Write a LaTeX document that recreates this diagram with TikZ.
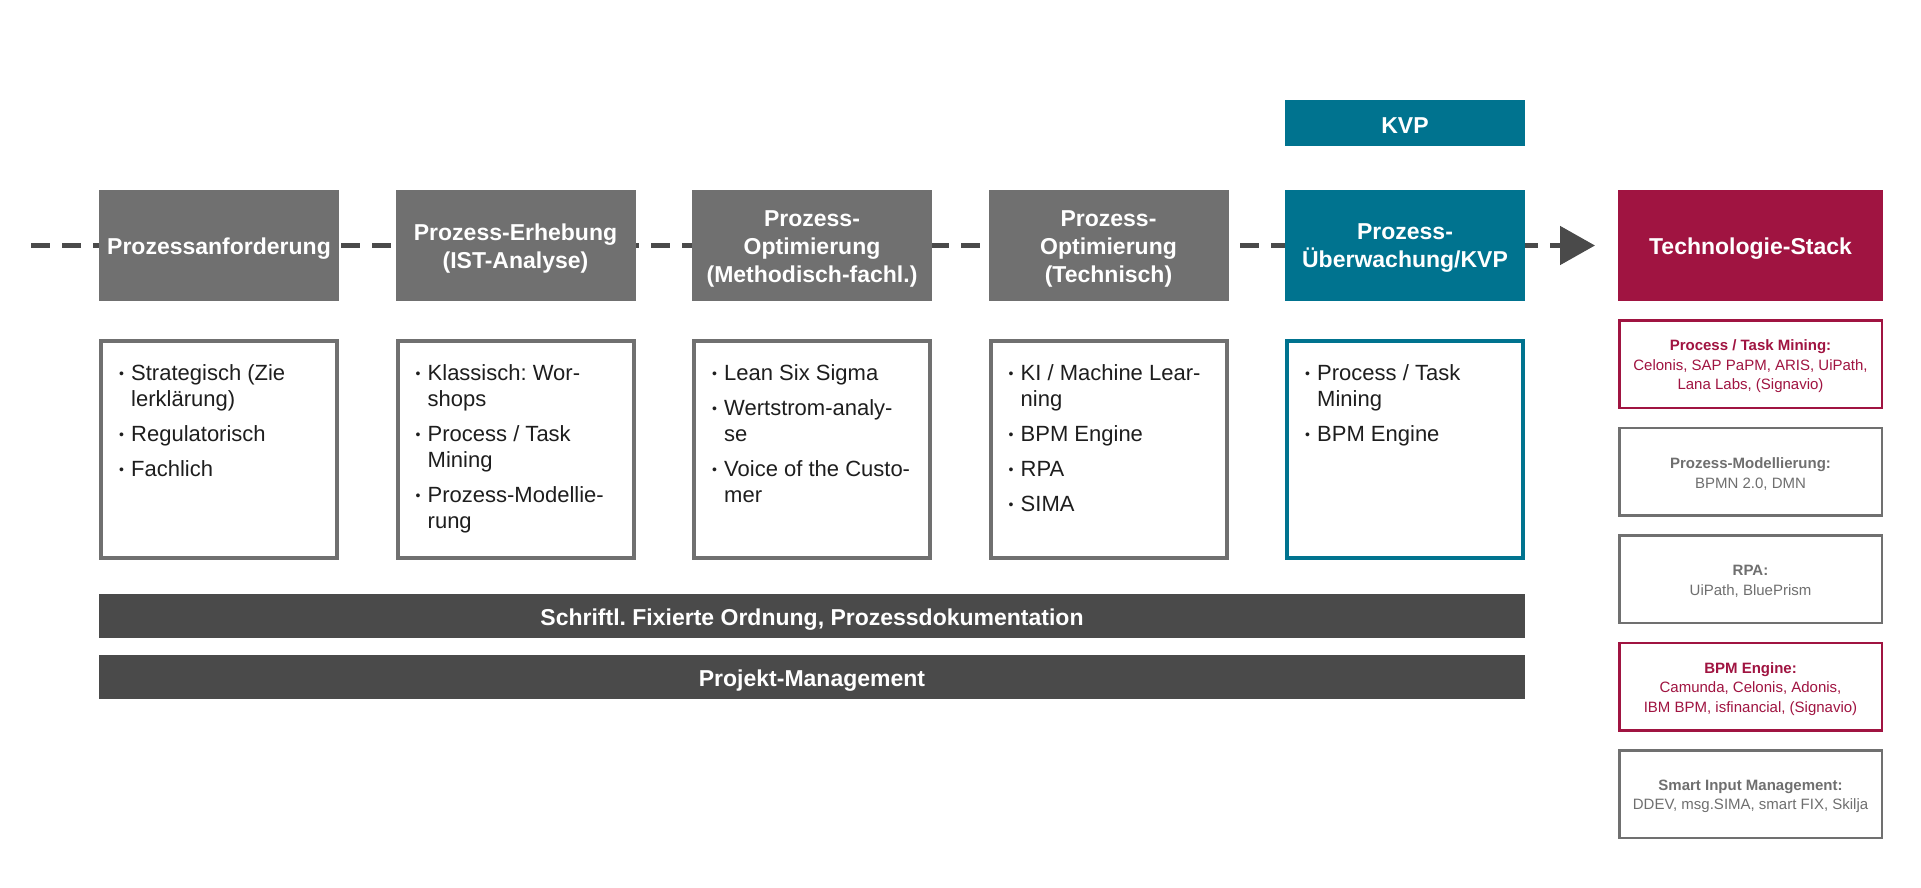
\documentclass[tikz,border=0pt]{standalone}
\usepackage{fontspec}
\setmainfont{Liberation Sans}
\usetikzlibrary{arrows.meta}
\frenchspacing
\definecolor{hdgray}{HTML}{707070}
\definecolor{bardark}{HTML}{4A4A4A}
\definecolor{kteal}{HTML}{00738F}
\definecolor{kcrim}{HTML}{A01441}
\definecolor{txtgray}{HTML}{6F6F6F}
\definecolor{bodytxt}{HTML}{1E1E1E}
\newcommand\bul{\makebox[12pt][l]{\raisebox{2pt}{\fontsize{14}{14}\selectfont\textbullet}}}
\tikzset{
 hdr/.style={minimum width=240pt, minimum height=111pt, inner sep=0pt},
 hdrtxt/.style={inner sep=0pt, text=white, align=center, font=\fontsize{23}{28}\selectfont\bfseries\frenchspacing},
 lbox/.style={draw=hdgray, line width=4pt, minimum width=236pt, minimum height=217pt, inner sep=0pt},
 ltext/.style={anchor=north west, inner sep=0pt, text=bodytxt, font=\fontsize{22}{26}\selectfont\frenchspacing},
 tbox/.style={draw=hdgray, line width=2.5pt, minimum width=262.5pt, minimum height=87.5pt, inner sep=0pt},
 ttxt/.style={inner sep=0pt, text=txtgray, align=center, font=\fontsize{15}{19.5}\selectfont\frenchspacing},
 bar/.style={fill=bardark, minimum width=1426pt, minimum height=44pt, inner sep=0pt},
 dashline/.style={draw=bardark, line width=5pt, dash pattern=on 19pt off 12pt},
}
\begin{document}
\begin{tikzpicture}[x=1pt,y=-1pt]
\useasboundingbox[fill=white] (0,0) rectangle (1921,888);
% flow line
\coordinate (start) at (31,245.5);
\coordinate (tip) at (1595,245.5);
\draw[dashline, -{Triangle[length=35pt,width=38pt]}] (start) -- (tip);
% phase headers
\node[hdr, fill=hdgray] (p1) at (219,245.5) {};
\node[hdr, fill=hdgray] (p2) at (515.5,245.5) {};
\node[hdr, fill=hdgray] (p3) at (812,245.5) {};
\node[hdr, fill=hdgray] (p4) at (1108.5,245.5) {};
\node[hdr, fill=kteal] (p5) at (1405,245.5) {};
\node[hdr, fill=kteal, minimum height=46pt] (kvp) at (1405,123) {};
\node[hdr, fill=kcrim, minimum width=265pt] (ts) at (1750.5,245.5) {};
\node[hdrtxt] (p1l) at ([yshift=-3pt]p1.center) {Prozessanforderung};
\node[hdrtxt] (p2l) at ([yshift=-3pt]p2.center) {Prozess-Erhebung\\(IST-Analyse)};
\node[hdrtxt] (p3l) at ([yshift=-3pt]p3.center) {Prozess-\\Optimierung\\(Methodisch-fachl.)};
\node[hdrtxt] (p4l) at ([yshift=-3pt]p4.center) {Prozess-\\Optimierung\\(Technisch)};
\node[hdrtxt] (p5l) at ([yshift=-3pt]p5.center) {Prozess-\\Überwachung/KVP};
\node[hdrtxt] (kvpl) at ([yshift=-3pt]kvp.center) {KVP};
\node[hdrtxt] (tsl) at ([yshift=-3pt]ts.center) {Technologie-Stack};
% lower boxes
\node[lbox] (l1) at (219,449.5) {};
\node[lbox] (l2) at (515.5,449.5) {};
\node[lbox] (l3) at (812,449.5) {};
\node[lbox] (l4) at (1108.5,449.5) {};
\node[lbox, draw=kteal] (l5) at (1405,449.5) {};
\node[ltext] (l1t) at ([xshift=20pt,yshift=-23pt]l1.north west) {\begin{tabular}{@{}l@{}l@{}}
\bul & Strategisch (Zie\\
 & lerklärung)\\[9pt]
\bul & Regulatorisch\\[9pt]
\bul & Fachlich
\end{tabular}};
\node[ltext] (l2t) at ([xshift=20pt,yshift=-23pt]l2.north west) {\begin{tabular}{@{}l@{}l@{}}
\bul & Klassisch: Wor-\\
 & shops\\[9pt]
\bul & Process / Task\\
 & Mining\\[9pt]
\bul & Prozess-Modellie-\\
 & rung
\end{tabular}};
\node[ltext] (l3t) at ([xshift=20pt,yshift=-23pt]l3.north west) {\begin{tabular}{@{}l@{}l@{}}
\bul & Lean Six Sigma\\[9pt]
\bul & Wertstrom-analy-\\
 & se\\[9pt]
\bul & Voice of the Custo-\\
 & mer
\end{tabular}};
\node[ltext] (l4t) at ([xshift=20pt,yshift=-23pt]l4.north west) {\begin{tabular}{@{}l@{}l@{}}
\bul & KI / Machine Lear-\\
 & ning\\[9pt]
\bul & BPM Engine\\[9pt]
\bul & RPA\\[9pt]
\bul & SIMA
\end{tabular}};
\node[ltext] (l5t) at ([xshift=20pt,yshift=-23pt]l5.north west) {\begin{tabular}{@{}l@{}l@{}}
\bul & Process / Task\\
 & Mining\\[9pt]
\bul & BPM Engine
\end{tabular}};
% bars
\node[bar] (doc) at (812,616) {};
\node[bar] (pm) at (812,677) {};
\node[hdrtxt] (docl) at ([yshift=-3.5pt]doc.center) {Schriftl. Fixierte Ordnung, Prozessdokumentation};
\node[hdrtxt] (pml) at ([yshift=-3.5pt]pm.center) {Projekt-Management};
% technology stack
\node[tbox, draw=kcrim] (t1) at (1750.5,364) {};
\node[tbox] (t2) at (1750.5,471.5) {};
\node[tbox] (t3) at (1750.5,579) {};
\node[tbox, draw=kcrim] (t4) at (1750.5,686.5) {};
\node[tbox] (t5) at (1750.5,794) {};
\node[ttxt, text=kcrim] (t1l) at ([yshift=-2.5pt]t1.center) {\textbf{Process / Task Mining:}\\Celonis, SAP PaPM, ARIS, UiPath,\\Lana Labs, (Signavio)};
\node[ttxt] (t2l) at ([yshift=-2.5pt]t2.center) {\textbf{Prozess-Modellierung:}\\BPMN 2.0, DMN};
\node[ttxt] (t3l) at ([yshift=-2.5pt]t3.center) {\textbf{RPA:}\\UiPath, BluePrism};
\node[ttxt, text=kcrim] (t4l) at ([yshift=-2.5pt]t4.center) {\textbf{BPM Engine:}\\Camunda, Celonis, Adonis,\\IBM BPM, isfinancial, (Signavio)};
\node[ttxt] (t5l) at ([yshift=-2.5pt]t5.center) {\textbf{Smart Input Management:}\\DDEV, msg.SIMA, smart FIX, Skilja};
\end{tikzpicture}
\end{document}
